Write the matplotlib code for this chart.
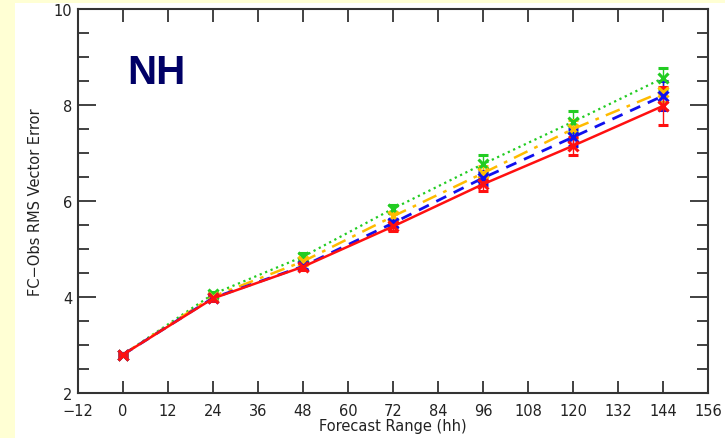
import matplotlib.pyplot as plt
from matplotlib.ticker import MultipleLocator

# Forecast steps and RMS vector errors for each experiment
steps = [0, 24, 48, 72, 96, 120, 144]
red_vals = [2.80, 3.97, 4.63, 5.47, 6.35, 7.15, 7.98]
blue_vals = [2.80, 3.98, 4.64, 5.54, 6.48, 7.33, 8.19]
orange_vals = [2.80, 4.01, 4.74, 5.68, 6.58, 7.50, 8.28]
green_vals = [2.80, 4.06, 4.84, 5.84, 6.77, 7.65, 8.56]

red_err = [0.03, 0.05, 0.06, 0.09, 0.15, 0.19, 0.40]
blue_err = [0.03, 0.05, 0.06, 0.08, 0.14, 0.18, 0.30]
orange_err = [0.03, 0.05, 0.06, 0.08, 0.14, 0.18, 0.22]
green_err = [0.03, 0.05, 0.07, 0.08, 0.18, 0.22, 0.22]

fig = plt.figure(figsize=(7.25, 4.39), dpi=100)
fig.patch.set_facecolor("#FFFFD4")

# white panel behind the plot
bg = fig.add_axes([15 / 725, 0, 1 - 15 / 725, 1 - 4 / 439], zorder=-1)
bg.axis("off")
bg.add_artist(plt.Rectangle((0, 0), 1, 1, transform=bg.transAxes,
                            facecolor="white", edgecolor="none"))

ax = fig.add_axes([78 / 725, 1 - 394 / 439, 630 / 725, 384 / 439], zorder=1)
ax.patch.set_alpha(0)

series = [
    (green_vals, green_err, "#22CC22", ":", 1.6),
    (orange_vals, orange_err, "#FFBB00", (0, (6, 3, 1.5, 3)), 1.8),
    (blue_vals, blue_err, "#1010EE", (0, (4, 3)), 2.0),
    (red_vals, red_err, "#FF1010", "-", 1.8),
]
for vals, err, col, ls, lw in series:
    ax.errorbar(steps, vals, yerr=err, color=col, ls=ls, lw=lw, marker="x",
                markersize=7, mew=2.2, capsize=3.5, elinewidth=1.0, capthick=1.0)

ax.set_xlim(-12, 156)
ax.set_ylim(2, 10)
ax.set_xticks(range(-12, 157, 12))
ax.set_xticklabels(["\u221212"] + [str(v) for v in range(0, 157, 12)])
ax.yaxis.set_major_locator(MultipleLocator(2))
ax.yaxis.set_minor_locator(MultipleLocator(0.5))
ax.tick_params(axis="both", which="both", direction="in", top=True, right=True,
               labelsize=10.5, colors="#333333", labelcolor="#222222")
ax.tick_params(axis="y", which="major", length=13, width=1.3, pad=4)
ax.tick_params(axis="y", which="minor", length=8, width=1.3)
ax.tick_params(axis="x", which="major", length=9, width=1.3, pad=7)
for s in ax.spines.values():
    s.set_color("#333333")
    s.set_linewidth(1.5)

ax.set_xlabel("Forecast Range (hh)", fontsize=10.5, color="#222222", labelpad=0)
ax.set_ylabel("FC\u2212Obs RMS Vector Error", fontsize=10.5, color="#222222", labelpad=8)

ax.text((127 - 78) / 630, (394 - 84) / 384, "NH", transform=ax.transAxes,
        fontsize=29, fontweight="bold", color="#000066", family="Liberation Sans")

fig.savefig("out.png", dpi=100, facecolor=fig.get_facecolor())
